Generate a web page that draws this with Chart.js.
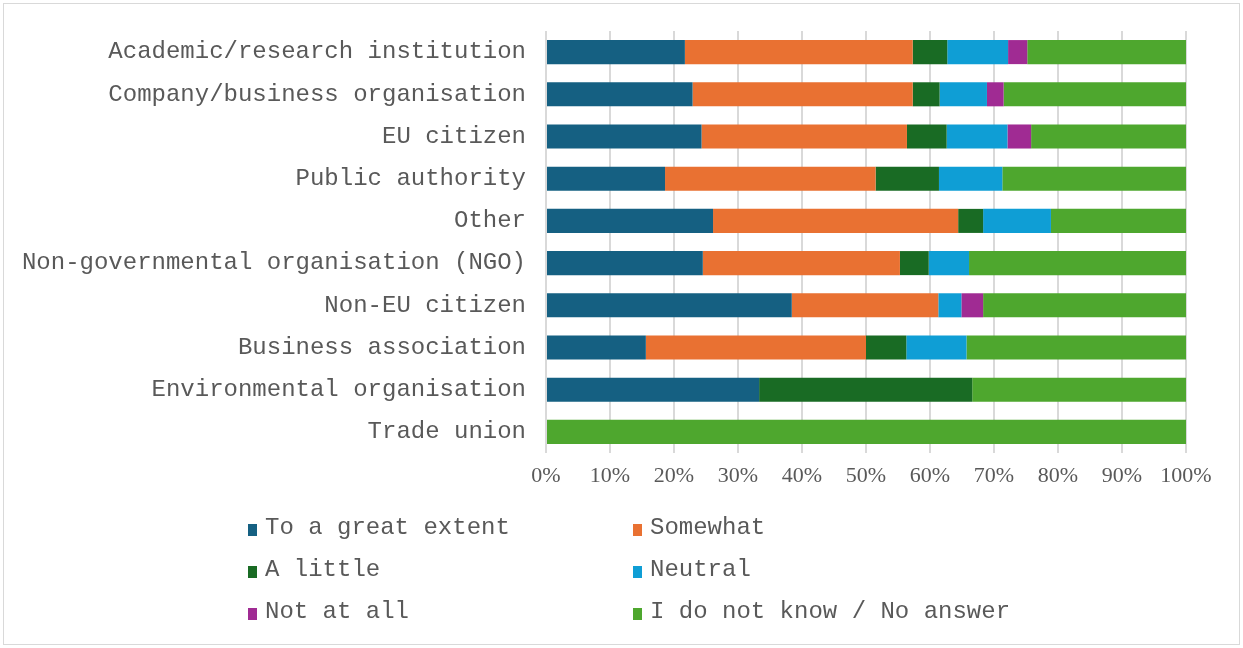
<!DOCTYPE html>
<html>
<head>
<meta charset="utf-8">
<script src="https://cdn.jsdelivr.net/npm/chart.js@4"></script>
<style>
  html, body { margin: 0; padding: 0; background: #fff; }
  #wrap { position: relative; width: 1243px; height: 648px; }
</style>
</head>
<body>
<div id="wrap"><canvas id="chart" width="1243" height="648"></canvas></div>
<script>
// --- DATA ---
const categories = [
  'Academic/research institution',
  'Company/business organisation',
  'EU citizen',
  'Public authority',
  'Other',
  'Non-governmental organisation (NGO)',
  'Non-EU citizen',
  'Business association',
  'Environmental organisation',
  'Trade union'
];
const greatExtent = [21.7, 22.9, 24.3, 18.6, 26.1, 24.5, 38.4, 15.6, 33.3, 0];
const somewhat    = [35.6, 34.4, 32.1, 32.9, 38.3, 30.8, 22.9, 34.4, 0, 0];
const aLittle     = [5.4, 4.2, 6.2, 9.9, 3.9, 4.5, 0, 6.3, 33.3, 0];
const neutral     = [9.5, 7.4, 9.5, 9.9, 10.6, 6.3, 3.6, 9.4, 0, 0];
const notAtAll    = [3.0, 2.6, 3.7, 0, 0, 0, 3.4, 0, 0, 0];
const noAnswer    = [24.8, 28.5, 24.2, 28.7, 21.1, 33.9, 31.7, 34.3, 33.4, 100];
const xTicks = ['0%', '10%', '20%', '30%', '40%', '50%', '60%', '70%', '80%', '90%', '100%'];

const seriesNames  = ['To a great extent', 'Somewhat', 'A little', 'Neutral', 'Not at all', 'I do not know / No answer'];
const seriesValues = [greatExtent, somewhat, aLittle, neutral, notAtAll, noAnswer];
const seriesColors = ['#156082', '#E97132', '#196B24', '#0F9ED5', '#A02B93', '#4EA72E'];

const monoFont = '"Liberation Mono", "Courier New", monospace';
const textGrey = '#595959';

// frame round the whole picture
const framePlugin = {
  id: 'frame',
  beforeDraw(chart) {
    const ctx = chart.ctx;
    ctx.save();
    ctx.strokeStyle = '#d9d9d9';
    ctx.lineWidth = 1;
    ctx.strokeRect(3.5, 3.5, chart.width - 7, chart.height - 7);
    ctx.restore();
  }
};

// two-column legend under the axis
const gridLegend = {
  id: 'gridLegend',
  afterDraw(chart) {
    const ctx = chart.ctx;
    const cols = [248, 633];
    const top = chart.chartArea.bottom + 75;
    ctx.save();
    ctx.font = '24px ' + monoFont;
    ctx.textBaseline = 'middle';
    chart.data.datasets.forEach((ds, i) => {
      const x = cols[i % 2];
      const y = top + Math.floor(i / 2) * 42;
      ctx.fillStyle = ds.backgroundColor;
      ctx.fillRect(x, y - 4, 9, 12);
      ctx.fillStyle = textGrey;
      ctx.fillText(ds.label, x + 17, y);
    });
    ctx.restore();
  }
};

new Chart(document.getElementById('chart'), {
  type: 'bar',
  data: {
    labels: categories,
    datasets: seriesNames.map((name, i) => ({
      label: name,
      data: seriesValues[i],
      backgroundColor: seriesColors[i],
      borderWidth: 0,
      categoryPercentage: 0.57,
      barPercentage: 1
    }))
  },
  options: {
    indexAxis: 'y',
    responsive: false,
    animation: false,
    layout: { padding: { top: 31, left: 0, right: 57, bottom: 156 } },
    plugins: {
      legend: { display: false },
      tooltip: { enabled: false }
    },
    scales: {
      x: {
        stacked: true,
        min: 0,
        max: 100,
        ticks: {
          stepSize: 10,
          padding: 10,
          color: textGrey,
          font: { family: '"Liberation Serif", "Times New Roman", serif', size: 22 },
          callback: (v, i) => xTicks[i]
        },
        grid: { color: '#d9d9d9', lineWidth: 2, drawTicks: false },
        border: { display: false },
        afterFit(scale) { scale.height = 39; }
      },
      y: {
        stacked: true,
        ticks: {
          padding: 12,
          color: textGrey,
          font: { family: monoFont, size: 24 }
        },
        grid: { display: false },
        border: { display: false },
        afterFit(scale) { scale.width = 546; }
      }
    }
  },
  plugins: [framePlugin, gridLegend]
});
</script>
</body>
</html>
